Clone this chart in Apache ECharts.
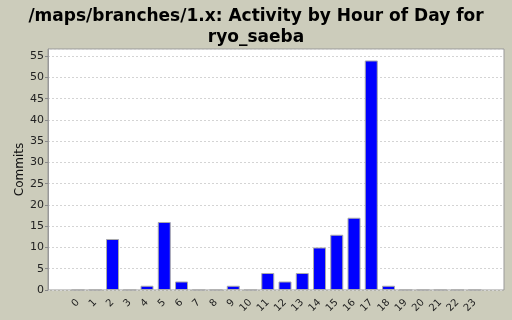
<!DOCTYPE html>
<html><head><meta charset="utf-8">
<script src="https://cdn.jsdelivr.net/npm/echarts@6/dist/echarts.min.js"></script>
<style>html,body{margin:0;padding:0;background:#CCCCBB;}#c{width:512px;height:320px;}</style>
</head><body><div id="c"></div>
<script>
const hours = ['0','1','2','3','4','5','6','7','8','9','10','11','12','13','14','15','16','17','18','19','20','21','22','23'];
const commits = [0,0,12,0,1,16,2,0,0,1,0,4,2,4,10,13,17,54,1,0,0,0,0,0];
const yTicks = {min: 0, max: 56.7, interval: 5};
const titleText = '/maps/branches/1.x: Activity by Hour of Day for\nryo_saeba';

const chart = echarts.init(document.getElementById('c'), null, {renderer: 'canvas'});
chart.setOption({
  backgroundColor: '#CCCCBB',
  animation: false,
  title: {
    text: titleText, left: 'center', top: 1,
    textStyle: {fontFamily: 'DejaVu Sans', fontWeight: 'bold', fontSize: 17, color: '#000', lineHeight: 21}
  },
  grid: [
    {left: 48, top: 49, width: 456, height: 241, show: true, backgroundColor: '#fff', borderColor: '#999', borderWidth: 1, containLabel: false},
    {left: 69.4, top: 49, width: 414, height: 241, containLabel: false}
  ],
  xAxis: [
    {gridIndex: 0, type: 'value', min: 0, max: 1, show: false},
    {gridIndex: 1, type: 'category', data: hours, boundaryGap: true,
     axisLine: {show: false}, axisTick: {show: false},
     axisLabel: {rotate: 45, fontSize: 10, color: '#222', fontFamily: 'DejaVu Sans', margin: 11, interval: 0}}
  ],
  yAxis: [
    {gridIndex: 0, type: 'value', min: yTicks.min, max: yTicks.max, interval: yTicks.interval,
     name: 'Commits', nameLocation: 'middle', nameGap: 22, nameMoveOverlap: false,
     nameTextStyle: {fontFamily: 'DejaVu Sans', fontSize: 12, color: '#111'},
     axisLine: {show: true, lineStyle: {color: '#999'}},
     axisTick: {show: true, length: 3, lineStyle: {color: '#888'}},
     axisLabel: {fontSize: 11, color: '#222', fontFamily: 'DejaVu Sans', margin: 4, showMaxLabel: false},
     splitLine: {show: true, lineStyle: {color: '#d4d4d4', type: [2, 2], width: 1}}},
    {gridIndex: 1, type: 'value', min: yTicks.min, max: yTicks.max, interval: yTicks.interval, show: false}
  ],
  series: [{
    type: 'bar', xAxisIndex: 1, yAxisIndex: 1, data: commits, barWidth: 13,
    itemStyle: {color: '#0000FF', borderColor: '#aaaaaa', borderWidth: 1}
  }]
});
</script></body></html>
